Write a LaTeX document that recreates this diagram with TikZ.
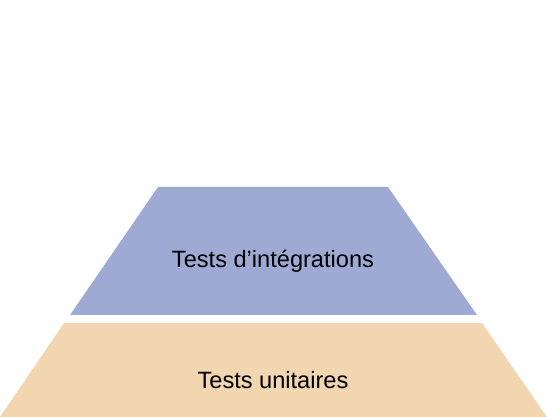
\documentclass[tikz,border=0pt]{standalone}
\usepackage{fontspec}
\setmainfont{Liberation Sans}
\definecolor{layerblue}{RGB}{158,170,212}
\definecolor{layertan}{RGB}{242,214,176}
\begin{document}
\begin{tikzpicture}[x=1pt,y=-1pt,
  lbl/.style={font=\fontsize{23.6}{26}\selectfont, text=black, anchor=center}]
\useasboundingbox (0,0) rectangle (547,417);
\fill[layerblue] (158,187) -- (388,187) -- (477,315) -- (70,315) -- cycle;
\fill[layertan] (64,323) -- (482,323) -- (547,417) -- (0,417) -- cycle;
\node[lbl] (integ) at (273,261) {Tests d’intégrations};
\node[lbl] (unit) at (273,380) {Tests unitaires};
\end{tikzpicture}
\end{document}
